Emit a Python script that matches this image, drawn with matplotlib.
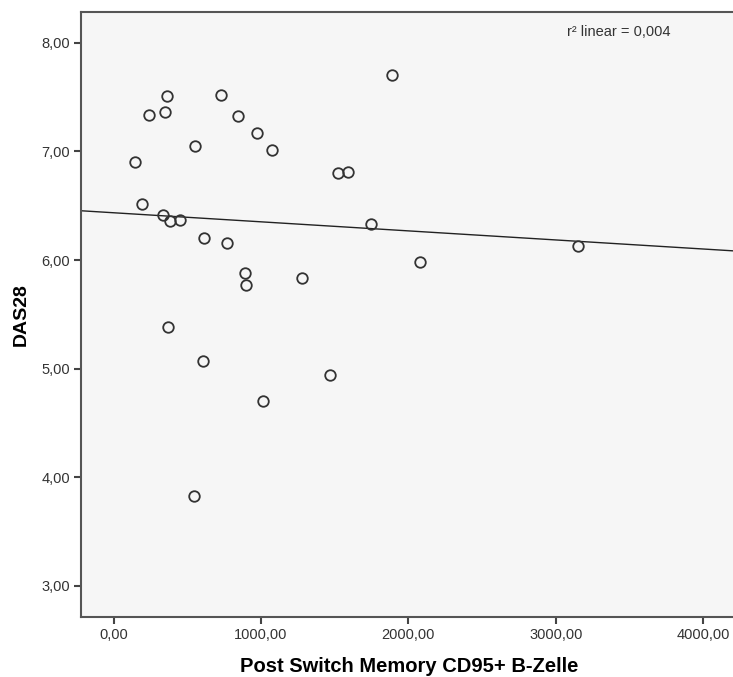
import numpy as np
import matplotlib
matplotlib.use('Agg')
import matplotlib.pyplot as plt
from matplotlib.ticker import FuncFormatter

plt.rcParams['font.family'] = ['Liberation Sans', 'DejaVu Sans']

# CD95+ post switch memory B cells vs. DAS28 score
cd95_bcells = [362, 237, 350, 726, 842, 976, 1078, 552, 144, 192,
               334, 384, 454, 611, 767, 1524, 1592, 1748, 2077, 3153,
               1279, 894, 901, 370, 606, 1470, 1014, 543, 1886]
das28 = [7.51, 7.34, 7.36, 7.52, 7.33, 7.17, 7.01, 7.05, 6.90, 6.52,
         6.41, 6.36, 6.37, 6.20, 6.16, 6.80, 6.81, 6.33, 5.98, 6.13,
         5.83, 5.88, 5.77, 5.38, 5.07, 4.94, 4.70, 3.83, 7.70]
x_ticks = [0, 1000, 2000, 3000, 4000]
y_ticks = [3, 4, 5, 6, 7, 8]

x = np.array(cd95_bcells, dtype=float)
y = np.array(das28)
slope, icpt = np.polyfit(x, y, 1)
r2 = np.corrcoef(x, y)[0, 1] ** 2

fig = plt.figure(figsize=(7.33, 6.77), dpi=100)
ax = fig.add_axes([0.1105, 0.0891, 0.895, 0.893])
ax.set_facecolor('#f6f6f6')

xlim = (-221, 4230)
ax.set_xlim(*xlim)
ax.set_ylim(2.715, 8.283)

# least-squares line across the full x range
xx = np.array(xlim)
ax.plot(xx, icpt + slope * xx, color='#222222', lw=1.0)
ax.plot(x, y, 'o', ms=7.6, mfc='none', mec='#333333', mew=1.3)

fmt = FuncFormatter(lambda v, p: f'{v:.2f}'.replace('.', ','))
ax.set_xticks(x_ticks)
ax.set_yticks(y_ticks)
ax.xaxis.set_major_formatter(fmt)
ax.yaxis.set_major_formatter(fmt)
ax.tick_params(direction='out', length=5, width=1.5, color='#444444',
               labelsize=10.5, labelcolor='#333333', pad=3)

for side in ['left', 'bottom', 'top']:
    ax.spines[side].set_color('#555555')
    ax.spines[side].set_linewidth(1.5)
ax.spines['right'].set_visible(False)

ax.set_xlabel('Post Switch Memory CD95+ B-Zelle', fontsize=14.5,
              fontweight='bold', labelpad=11)
ax.set_ylabel('DAS28', fontsize=14, fontweight='bold', labelpad=8)

ax.text(3430, 8.1, f'r² linear = {r2:.3f}'.replace('.', ','), fontsize=10.5,
        color='#333333', ha='center', va='center')

fig.savefig('out.png', dpi=100)
